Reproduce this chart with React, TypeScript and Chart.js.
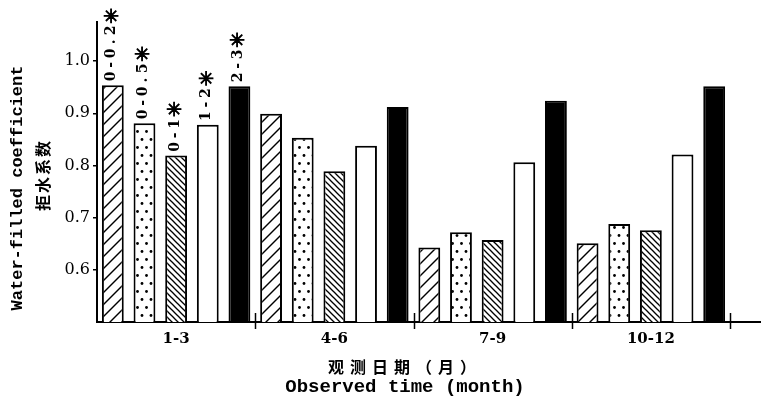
import { useEffect, useRef } from 'react';
import { Chart, registerables } from 'chart.js';

Chart.register(...registerables);

const categories = ['1-3', '4-6', '7-9', '10-12'];
const seriesLabels = ['0-0.2', '0-0.5', '0-1', '1-2', '2-3'];
const labelMark = '✳';
const depth0to02 = [0.954, 0.899, 0.643, 0.651];
const depth0to05 = [0.881, 0.853, 0.672, 0.688];
const depth0to1 = [0.819, 0.789, 0.657, 0.676];
const depth1to2 = [0.878, 0.838, 0.806, 0.821];
const depth2to3 = [0.952, 0.912, 0.924, 0.952];
const yTickValues = [0.6, 0.7, 0.8, 0.9, 1.0];
const yMin = 0.5;
const yMax = 1.075;
const yTitleEn = 'Water-filled coefficient';
const yTitleZh = '拒水系数';
const xTitleZh = '观测日期（月）';
const xTitleEn = 'Observed time (month)';

const MONO = "'Liberation Mono', 'DejaVu Sans Mono', monospace";
const SERIF = "'DejaVu Serif', 'Liberation Serif', serif";
const CJK = "'Noto Sans CJK SC', sans-serif";

function makePattern(kind: string): CanvasPattern | string {
  const c = document.createElement('canvas');
  const ctx = c.getContext('2d');
  if (!ctx) return '#fff';
  if (kind === 'fwd') {
    const p = 12;
    c.width = p; c.height = p;
    ctx.fillStyle = '#fff'; ctx.fillRect(0, 0, p, p);
    ctx.strokeStyle = '#000'; ctx.lineWidth = 1.4;
    for (const o of [-p, 0, p]) {
      ctx.beginPath(); ctx.moveTo(o - 1, p + 1); ctx.lineTo(o + p + 1, -1); ctx.stroke();
    }
  } else if (kind === 'back') {
    const p = 6;
    c.width = p; c.height = p;
    ctx.fillStyle = '#fff'; ctx.fillRect(0, 0, p, p);
    ctx.strokeStyle = '#000'; ctx.lineWidth = 1.3;
    for (const o of [-p, 0, p]) {
      ctx.beginPath(); ctx.moveTo(o - 1, -1); ctx.lineTo(o + p + 1, p + 1); ctx.stroke();
    }
  } else if (kind === 'dots') {
    c.width = 9; c.height = 16;
    ctx.fillStyle = '#fff'; ctx.fillRect(0, 0, 9, 16);
    ctx.fillStyle = '#000';
    ctx.beginPath(); ctx.arc(2.5, 3.5, 1.4, 0, Math.PI * 2); ctx.fill();
    ctx.beginPath(); ctx.arc(7, 11.5, 1.4, 0, Math.PI * 2); ctx.fill();
  }
  return ctx.createPattern(c, 'repeat') || '#fff';
}

// draw characters in fixed-pitch cells, starting at x=0 along current frame
function drawPitched(ctx: CanvasRenderingContext2D, text: string, pitch: number): number {
  const chars = Array.from(text);
  ctx.textAlign = 'center';
  chars.forEach((ch, i) => ctx.fillText(ch, i * pitch + pitch / 2, 0));
  return chars.length * pitch;
}

const decor = {
  id: 'decor',
  afterDatasetsDraw(chart: any) {
    const ctx: CanvasRenderingContext2D = chart.ctx;
    const xs = chart.scales.x;
    const ys = chart.scales.y;
    const area = chart.chartArea;
    const base = ys.getPixelForValue(yMin);
    ctx.save();
    ctx.strokeStyle = '#000';
    ctx.lineWidth = 2;
    // x axis continues to the right edge
    ctx.beginPath();
    ctx.moveTo(area.right, base);
    ctx.lineTo(chart.width, base);
    ctx.stroke();
    // group boundary ticks crossing the axis
    const half = (xs.getPixelForValue(1) - xs.getPixelForValue(0)) / 2;
    ctx.lineWidth = 1.5;
    for (let i = 0; i < categories.length; i++) {
      const bx = Math.round(xs.getPixelForValue(i) + half) + 0.5;
      ctx.beginPath();
      ctx.moveTo(bx, base - 9);
      ctx.lineTo(bx, base + 7);
      ctx.stroke();
    }
    // rotated depth labels above first group
    ctx.fillStyle = '#000';
    ctx.textBaseline = 'middle';
    chart.data.datasets.forEach((_ds: any, i: number) => {
      const el = chart.getDatasetMeta(i).data[0];
      ctx.save();
      ctx.translate(el.x - 1, el.y - 3);
      ctx.rotate(-Math.PI / 2);
      ctx.font = `bold 14px ${SERIF}`;
      const len = drawPitched(ctx, seriesLabels[i], 11.5);
      ctx.font = `bold 19px 'DejaVu Sans', sans-serif`;
      ctx.textAlign = 'left';
      ctx.lineWidth = 0.9;
      ctx.fillText(labelMark, len + 1, 1);
      ctx.strokeText(labelMark, len + 1, 1);
      ctx.restore();
    });
    // y titles
    ctx.save();
    ctx.translate(18, 188);
    ctx.rotate(-Math.PI / 2);
    ctx.textAlign = 'center';
    ctx.textBaseline = 'middle';
    ctx.font = `bold 17px ${MONO}`;
    ctx.fillText(yTitleEn, 0, 0);
    ctx.restore();
    ctx.save();
    ctx.translate(43, 176);
    ctx.rotate(-Math.PI / 2);
    ctx.textAlign = 'center';
    ctx.textBaseline = 'middle';
    ctx.font = `bold 16px ${CJK}`;
    (ctx as any).letterSpacing = '2px';
    ctx.fillText(yTitleZh, 1, 0);
    ctx.restore();
    // x titles
    ctx.save();
    ctx.textAlign = 'center';
    ctx.textBaseline = 'middle';
    ctx.font = `bold 16px ${CJK}`;
    (ctx as any).letterSpacing = '6px';
    ctx.fillText(xTitleZh, 405, 367);
    ctx.restore();
    ctx.save();
    ctx.textAlign = 'center';
    ctx.textBaseline = 'alphabetic';
    ctx.font = `bold 19px ${MONO}`;
    ctx.fillText(xTitleEn, 405, 392);
    ctx.restore();
    ctx.restore();
  },
};

export default function App() {
  const ref = useRef<HTMLCanvasElement | null>(null);
  useEffect(() => {
    if (!ref.current) return;
    const fills = [
      makePattern('fwd'),
      makePattern('dots'),
      makePattern('back'),
      '#ffffff',
      '#000000',
    ];
    const series = [depth0to02, depth0to05, depth0to1, depth1to2, depth2to3];
    const chart = new Chart(ref.current, {
      type: 'bar',
      data: {
        labels: categories,
        datasets: series.map((d, i) => ({
          label: seriesLabels[i],
          data: d,
          backgroundColor: fills[i] as any,
          borderColor: '#000',
          borderWidth: 2,
          borderSkipped: false,
          barPercentage: 0.69,
          categoryPercentage: 1,
        })),
      },
      options: {
        responsive: false,
        animation: false,
        layout: { padding: { top: 22, right: 31, left: 0, bottom: 0 } },
        plugins: { legend: { display: false }, tooltip: { enabled: false } },
        scales: {
          x: {
            grid: { display: false },
            border: { display: true, color: '#000', width: 2 },
            ticks: {
              color: '#000',
              padding: 0,
              maxRotation: 0,
              font: { family: SERIF, size: 15, weight: 'bold' },
            },
            afterFit: (s: any) => { s.height = 84; },
          },
          y: {
            min: yMin,
            max: yMax,
            afterBuildTicks: (s: any) => { s.ticks = yTickValues.map((v) => ({ value: v })); },
            grid: { drawOnChartArea: false, drawTicks: true, tickLength: 4, color: '#000', lineWidth: 1.5 },
            border: { display: true, color: '#000', width: 2 },
            ticks: {
              color: '#000',
              padding: 3,
              font: { family: SERIF, size: 16 },
              callback: (v: any) => Number(v).toFixed(1),
            },
            afterFit: (s: any) => { s.width = 97; },
          },
        },
      },
      plugins: [decor],
    });
    return () => chart.destroy();
  }, []);
  return (
    <canvas
      ref={ref}
      width={761}
      height={406}
      style={{ position: 'absolute', left: 0, top: 0, display: 'block', background: '#fff' }}
    />
  );
}
